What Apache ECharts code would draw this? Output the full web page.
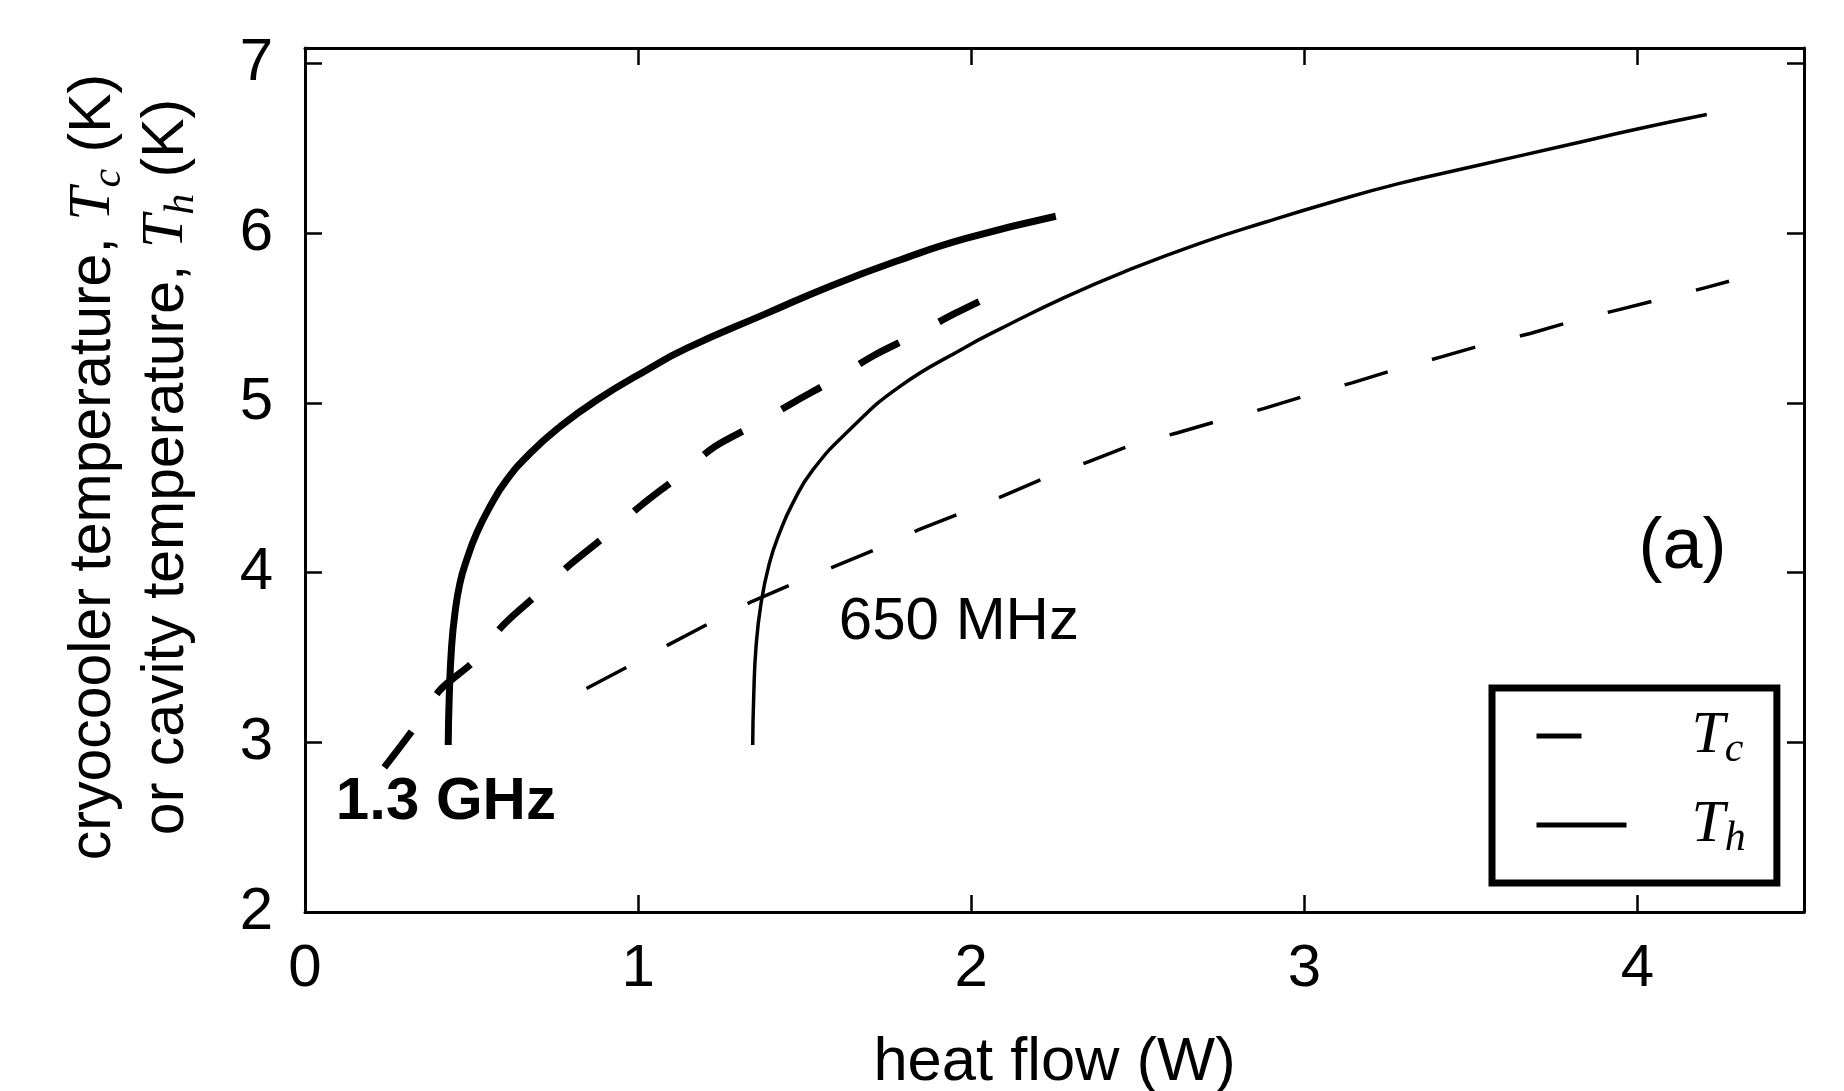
<!DOCTYPE html>
<html><head><meta charset="utf-8">
<script src="https://cdn.jsdelivr.net/npm/echarts@6/dist/echarts.min.js"></script>
<style>html,body{margin:0;padding:0;background:#fff}#c{width:1844px;height:1091px}</style>
</head><body><div id="c"></div>
<script>
// ---- data ----
const xTicks = [0, 1, 2, 3, 4];
const yTicks = [2, 3, 4, 5, 6, 7];

// 1.3 GHz, cavity temperature Th (thick solid)
const th13X = [0.430, 0.433, 0.440, 0.450, 0.465, 0.485, 0.515, 0.555, 0.605, 0.675, 0.765, 0.875, 1.025, 1.145, 1.384, 1.584, 1.784, 1.984, 2.254];
const th13Y = [2.984, 3.268, 3.562, 3.759, 3.936, 4.073, 4.230, 4.387, 4.544, 4.701, 4.858, 5.015, 5.192, 5.320, 5.525, 5.693, 5.840, 5.968, 6.099];

// 1.3 GHz, cryocooler temperature Tc (thick dashed)
const tc13X = [0.238, 0.321, 0.405, 0.505, 0.595, 0.695, 0.800, 0.905, 1.010, 1.120, 1.229, 1.349, 1.469, 1.589, 1.709, 1.829, 1.954, 2.074];
const tc13Y = [2.852, 3.066, 3.307, 3.474, 3.690, 3.867, 4.054, 4.220, 4.397, 4.564, 4.740, 4.868, 5.005, 5.137, 5.280, 5.398, 5.529, 5.644];

// 650 MHz, cavity temperature Th (thin solid)
const th650X = [1.344, 1.347, 1.354, 1.369, 1.394, 1.424, 1.464, 1.524, 1.634, 1.784, 1.984, 2.084, 2.284, 2.484, 2.684, 2.884, 3.083, 3.283, 3.493, 3.793, 3.993, 4.208];
const th650Y = [2.984, 3.268, 3.562, 3.818, 4.054, 4.230, 4.407, 4.603, 4.839, 5.094, 5.329, 5.432, 5.624, 5.791, 5.938, 6.065, 6.183, 6.291, 6.386, 6.520, 6.610, 6.698];

// 650 MHz, cryocooler temperature Tc (thin dashed)
const tc650X = [0.845, 0.965, 1.089, 1.209, 1.334, 1.456, 1.588, 1.714, 1.839, 1.969, 2.096, 2.222, 2.351, 2.472, 2.617, 2.744, 2.880, 3.011, 3.143, 3.274, 3.411, 3.540, 3.678, 3.808, 3.945, 4.078, 4.213, 4.275];
const tc650Y = [3.317, 3.441, 3.572, 3.696, 3.822, 3.926, 4.035, 4.136, 4.249, 4.350, 4.452, 4.558, 4.652, 4.745, 4.822, 4.894, 4.967, 5.046, 5.117, 5.196, 5.270, 5.343, 5.408, 5.482, 5.549, 5.614, 5.683, 5.716];

const legendNames = ['Tc', 'Th'];
const annoText = ['1.3 GHz', '650 MHz', '(a)'];
const annoX = [0.423, 1.963, 4.135];
const annoY = [2.648, 3.708, 4.144];
// ---------------------------------------

const zip = (xs, ys) => xs.map((x, i) => [x, ys[i]]);
const BLACK = '#000';
const SANS = 'Liberation Sans, Arial, Helvetica, sans-serif';
const SERIF = 'Liberation Serif, Times New Roman, serif';

const chart = echarts.init(document.getElementById('c'), null, {renderer: 'canvas'});

const intOnly = v => Number.isInteger(v) && (xTicks.includes(v) || yTicks.includes(v)) ? String(v) : '';

const axisBase = {
  type: 'value',
  axisLine: {show: true, onZero: false, lineStyle: {color: BLACK, width: 3}},
  axisTick: {show: true, inside: true, length: 17, lineStyle: {color: BLACK, width: 2.5}},
  splitLine: {show: false},
  interval: 1
};

const rich = {
  i: {fontFamily: SERIF, fontStyle: 'italic', fontSize: 60, lineHeight: 73, color: BLACK},
  s: {fontFamily: SERIF, fontStyle: 'italic', fontSize: 42, lineHeight: 46, verticalAlign: 'bottom', color: BLACK},
  n: {fontFamily: SANS, fontSize: 59, lineHeight: 73, color: BLACK}
};

const annoSizes = [60, 60, 72];
const annoWeights = ['bold', 'normal', 'normal'];

const option = {
  backgroundColor: '#fff',
  animation: false,
  grid: {left: 305, right: 40, top: 48, bottom: 179, containLabel: false, outerBoundsMode: 'none'},
  xAxis: [
    Object.assign({}, axisBase, {
      min: 0, max: 4.5, position: 'bottom',
      axisLabel: {margin: 27, fontSize: 60, color: BLACK, fontFamily: SANS, formatter: intOnly},
      name: 'heat flow (W)', nameLocation: 'middle', nameGap: 120,
      nameTextStyle: {fontSize: 61.5, color: BLACK, fontFamily: SANS}
    }),
    Object.assign({}, axisBase, {
      min: 0, max: 4.5, position: 'top', axisLabel: {show: false}
    })
  ],
  yAxis: [
    Object.assign({}, axisBase, {
      min: 2, max: 7.09, position: 'left',
      axisLabel: {margin: 32, fontSize: 60, color: BLACK, fontFamily: SANS, formatter: intOnly},
      name: '{n|cryocooler temperature, }{i|T}{s|c}{n| (K)}\n{n|or cavity temperature, }{i|T}{s|h}{n| (K)}',
      nameLocation: 'middle', nameGap: 102, nameRotate: 90,
      nameTextStyle: {rich: rich, align: 'center', padding: [0, 0, 0, 26]}
    }),
    Object.assign({}, axisBase, {
      min: 2, max: 7.09, position: 'right', axisLabel: {show: false}
    })
  ],
  legend: {
    orient: 'vertical', left: 1492, top: 688,
    padding: [18, 31, 23, 42],
    itemWidth: 90, itemHeight: 10, itemGap: 24,
    borderColor: BLACK, borderWidth: 7, borderRadius: 0, backgroundColor: '#fff',
    selectedMode: false,
    data: legendNames,
    lineStyle: {width: 5},
    itemStyle: {opacity: 0, borderWidth: 0},
    formatter: name => name === 'Tc' ? '{i|T}{s|c}' : '{i|T}{s|h}',
    textStyle: {
      padding: [0, 0, 0, 60],
      rich: {
        i: {fontFamily: SERIF, fontStyle: 'italic', fontSize: 60, lineHeight: 70, color: BLACK},
        s: {fontFamily: SERIF, fontStyle: 'italic', fontSize: 42, lineHeight: 30, verticalAlign: 'bottom', color: BLACK}
      }
    }
  },
  series: [
    {name: 'Tc', type: 'line', data: zip(tc650X, tc650Y), symbol: 'none', smooth: false,
     itemStyle: {color: BLACK},
     lineStyle: {color: BLACK, width: 3.5, type: [45, 46], cap: 'butt'}},
    {name: 'Th', type: 'line', data: zip(th650X, th650Y), symbol: 'none', smooth: 0.5,
     itemStyle: {color: BLACK},
     lineStyle: {color: BLACK, width: 3.5}},
    {name: 'Tc', type: 'line', data: zip(tc13X, tc13Y), symbol: 'none', smooth: 0.3,
     itemStyle: {color: BLACK},
     lineStyle: {color: BLACK, width: 7, type: [45, 45], cap: 'butt'}},
    {name: 'Th', type: 'line', data: zip(th13X, th13Y), symbol: 'none', smooth: 0.5,
     itemStyle: {color: BLACK},
     lineStyle: {color: BLACK, width: 7}}
  ]
};
chart.setOption(option);

// annotations placed through the axes' own data -> pixel conversion
const graphics = annoText.map((t, i) => {
  const p = chart.convertToPixel({xAxisIndex: 0, yAxisIndex: 0}, [annoX[i], annoY[i]]);
  return {
    type: 'text', silent: true, z: 100,
    x: p[0], y: p[1],
    style: {
      text: t, fill: BLACK, align: 'center', verticalAlign: 'middle',
      fontFamily: SANS, fontSize: annoSizes[i], fontWeight: annoWeights[i]
    }
  };
});
chart.setOption({graphic: graphics});
</script></body></html>
